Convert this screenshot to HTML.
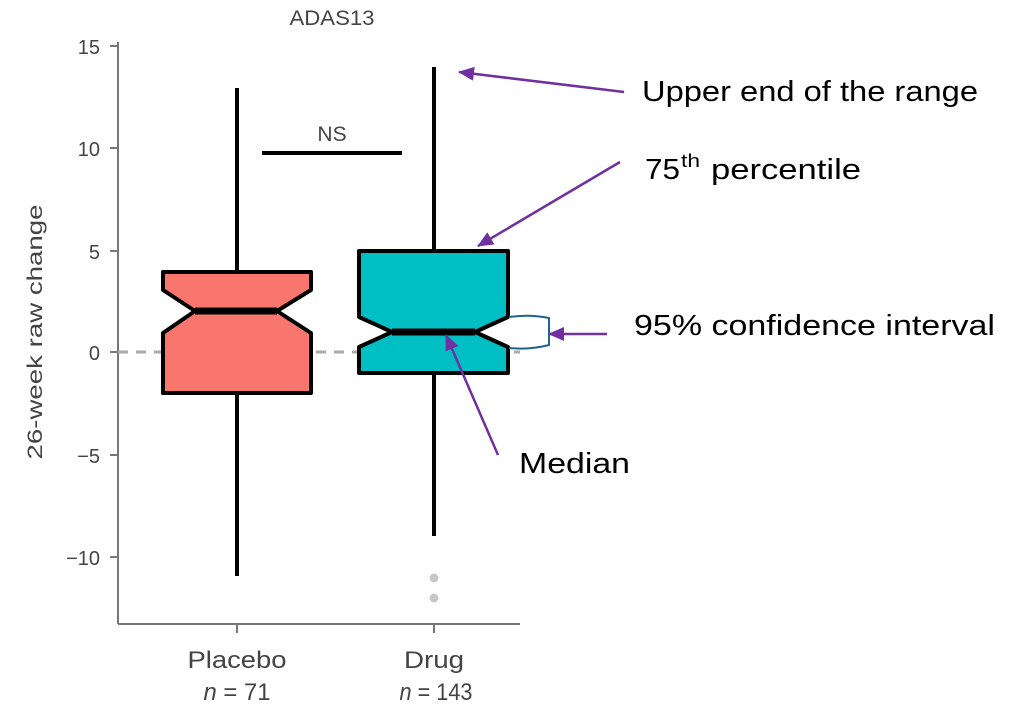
<!DOCTYPE html>
<html><head><meta charset="utf-8"><style>html,body{margin:0;padding:0;background:#fff}svg{display:block}</style></head>
<body>
<svg width="1024" height="709" viewBox="0 0 1024 709" xmlns="http://www.w3.org/2000/svg">
<defs>
<marker id="ah" markerWidth="16" markerHeight="14" refX="15" refY="7" orient="auto" markerUnits="userSpaceOnUse" viewBox="0 0 16 14">
<path d="M0,0 L16,7 L0,14 z" fill="#7030a0"/>
</marker>
</defs>
<g font-family="Liberation Sans, sans-serif" fill="#444">
<text x="332" y="25" font-size="21" text-anchor="middle" textLength="85" lengthAdjust="spacingAndGlyphs">ADAS13</text>
<text x="100" y="54" font-size="20" text-anchor="end">15</text>
<text x="100" y="156" font-size="20" text-anchor="end">10</text>
<text x="100" y="259" font-size="20" text-anchor="end">5</text>
<text x="100" y="360" font-size="20" text-anchor="end">0</text>
<text x="100" y="463" font-size="20" text-anchor="end">−5</text>
<text x="100" y="565" font-size="20" text-anchor="end">−10</text>
<text transform="translate(42,332) rotate(-90)" font-size="21" text-anchor="middle" textLength="255" lengthAdjust="spacingAndGlyphs">26-week raw change</text>
<text x="237" y="668" font-size="24" text-anchor="middle" textLength="99" lengthAdjust="spacingAndGlyphs">Placebo</text>
<text x="237" y="700" font-size="24" text-anchor="middle" textLength="67" lengthAdjust="spacingAndGlyphs"><tspan font-style="italic">n</tspan> = 71</text>
<text x="434" y="668" font-size="24" text-anchor="middle" textLength="60" lengthAdjust="spacingAndGlyphs">Drug</text>
<text x="436" y="700" font-size="24" text-anchor="middle" textLength="73" lengthAdjust="spacingAndGlyphs"><tspan font-style="italic">n</tspan> = 143</text>
<text x="332" y="141" font-size="21" text-anchor="middle">NS</text>
</g>
<g stroke="#777" stroke-width="2" fill="none">
<line x1="118" y1="42" x2="118" y2="624"/>
<line x1="118" y1="624" x2="520" y2="624"/>
<line x1="110" y1="46" x2="118" y2="46"/>
<line x1="110" y1="148" x2="118" y2="148"/>
<line x1="110" y1="251" x2="118" y2="251"/>
<line x1="110" y1="352" x2="118" y2="352"/>
<line x1="110" y1="455" x2="118" y2="455"/>
<line x1="110" y1="557" x2="118" y2="557"/>
<line x1="237" y1="624" x2="237" y2="633"/>
<line x1="434" y1="624" x2="434" y2="633"/>
</g>
<line x1="118" y1="352" x2="520" y2="352" stroke="#aaa" stroke-width="3" stroke-dasharray="10,8"/>
<g stroke="#000" stroke-width="4" fill="none">
<line x1="237" y1="88" x2="237" y2="576"/>
<line x1="434" y1="67" x2="434" y2="536"/>
<line x1="262" y1="153" x2="402" y2="153"/>
</g>
<path d="M163,272 L311,272 L311,290 L277,311 L311,333 L311,393 L163,393 L163,333 L195,311 L163,290 Z" fill="#f8766d" stroke="#000" stroke-width="4" stroke-linejoin="round"/>
<line x1="195" y1="311" x2="277" y2="311" stroke="#000" stroke-width="7"/>
<path d="M359,251 L508,251 L508,317 L475,332 L508,347 L508,373 L359,373 L359,347 L392,332 L359,317 Z" fill="#00bfc4" stroke="#000" stroke-width="4" stroke-linejoin="round"/>
<line x1="392" y1="332" x2="475" y2="332" stroke="#000" stroke-width="7"/>
<circle cx="434" cy="578" r="4.5" fill="#c8c8c8"/>
<circle cx="434" cy="598" r="4.5" fill="#c8c8c8"/>
<path d="M509,317 Q530,314 549,318 L549,345 Q530,350 509,348" fill="none" stroke="#1f6391" stroke-width="2"/>
<g stroke="#7030a0" stroke-width="2.5" fill="none" marker-end="url(#ah)">
<line x1="624" y1="92" x2="459" y2="72"/>
<line x1="620" y1="162" x2="478" y2="246"/>
<line x1="607" y1="334" x2="549" y2="334"/>
<line x1="498" y1="455" x2="446" y2="335"/>
</g>
<g font-family="Liberation Sans, sans-serif" fill="#000" font-size="29">
<text x="642" y="101" textLength="336" lengthAdjust="spacingAndGlyphs">Upper end of the range</text>
<text x="645" y="179" textLength="35" lengthAdjust="spacingAndGlyphs">75</text>
<text x="681" y="167" font-size="18" textLength="19" lengthAdjust="spacingAndGlyphs">th</text>
<text x="711" y="179" textLength="150" lengthAdjust="spacingAndGlyphs">percentile</text>
<text x="634" y="335" textLength="361" lengthAdjust="spacingAndGlyphs">95% confidence interval</text>
<text x="519" y="473" textLength="111" lengthAdjust="spacingAndGlyphs">Median</text>
</g>
</svg>
</body></html>
